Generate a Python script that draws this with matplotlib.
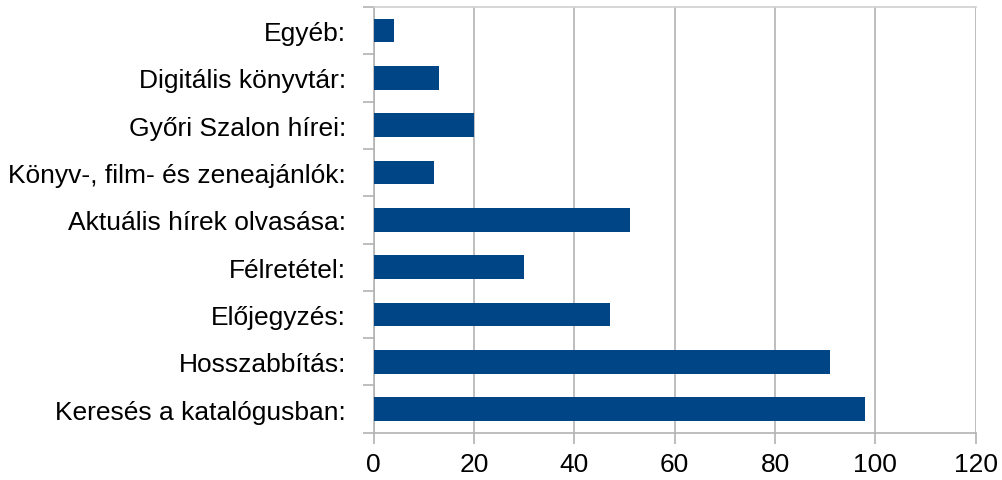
import matplotlib
matplotlib.use("Agg")
import matplotlib.pyplot as plt
import numpy as np

categories = ["Keresés a katalógusban:", "Hosszabbítás:", "Előjegyzés:", "Félretétel:",
              "Aktuális hírek olvasása:", "Könyv-, film- és zeneajánlók:",
              "Győri Szalon hírei:", "Digitális könyvtár:", "Egyéb:"]
values = [98, 91, 47, 30, 51, 12, 20, 13, 4]
xticks = [0, 20, 40, 60, 80, 100, 120]

plt.rcParams['font.family'] = ['Liberation Sans', 'DejaVu Sans']
fig = plt.figure(figsize=(10.02, 4.81), dpi=100)
ax = fig.add_axes([0.373, 0.0983, 0.6008, 0.8851])

y = np.arange(len(categories))
ax.barh(y, values, height=0.5, color="#004586", zorder=3)
ax.set_xlim(0, 120)
ax.set_ylim(-0.5, len(categories) - 0.5)
ax.set_xticks(xticks)
ax.set_xticklabels([str(v) for v in xticks], fontsize=19)
ax.set_yticks(y)
ax.set_yticklabels(categories, fontsize=19)
ax.set_yticks(np.arange(-0.5, len(categories), 1), minor=True)

gc = "#b3b3b3"
ax.grid(axis="x", color=gc, linewidth=1.2, zorder=0)
ax.tick_params(axis="y", which="major", length=0, pad=20)
ax.tick_params(axis="y", which="minor", length=8, color=gc, width=1.2)
ax.tick_params(axis="x", which="major", length=8, color=gc, width=1.2, pad=6)
ax.spines["right"].set_visible(False)
ax.spines["top"].set_color("#d0d0d0")
ax.spines["top"].set_linewidth(1.2)
for side in ["left", "bottom"]:
    ax.spines[side].set_color(gc)
    ax.spines[side].set_linewidth(1.2)

fig.savefig("out.png", dpi=100)
